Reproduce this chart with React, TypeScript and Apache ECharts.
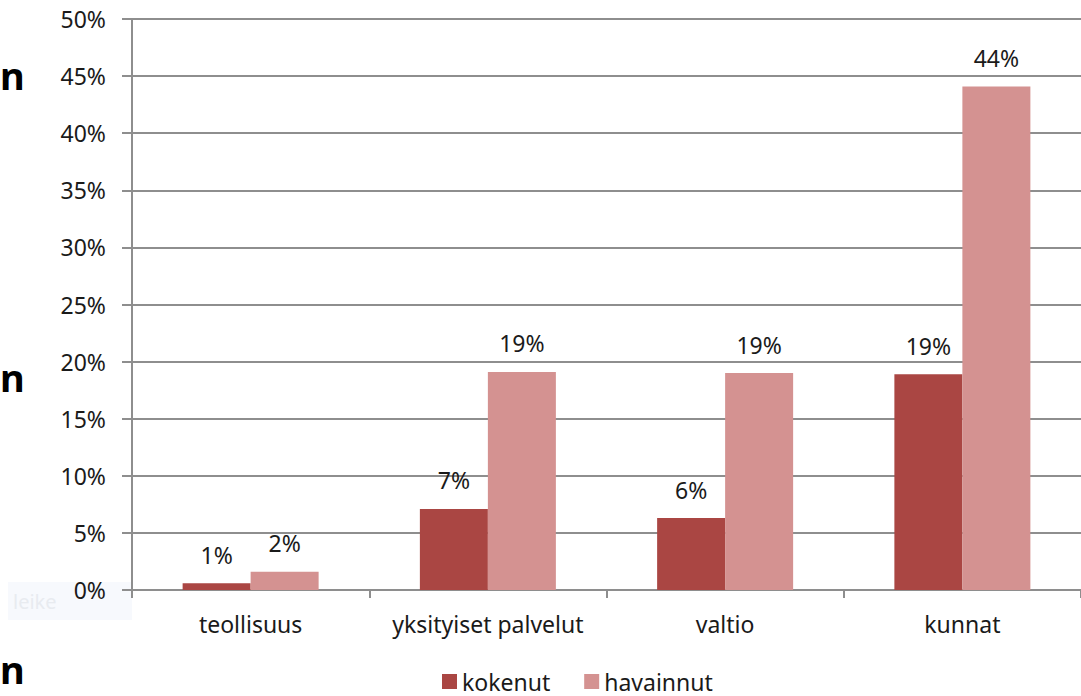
import React, { useEffect, useRef } from "react";
import * as echarts from "echarts";

const categories = ["teollisuus", "yksityiset palvelut", "valtio", "kunnat"];
const kokenut = [0.6, 7.1, 6.3, 18.9];
const havainnut = [1.6, 19.1, 19.0, 44.1];
const seriesNames = ["kokenut", "havainnut"];

const FONT = "Noto Sans";
const FS = 23;

export default function App() {
  const ref = useRef<HTMLDivElement>(null);
  useEffect(() => {
    if (!ref.current) return;
    const chart = echarts.init(ref.current, undefined, { renderer: "svg" });
    const labelStyle = {
      show: true,
      position: "top" as const,
      distance: 17,
      fontSize: FS,
      fontFamily: FONT,
      color: "#1a1a1a",
      formatter: (p: any) => Math.round(p.value) + "%",
    };
    chart.setOption({
      animation: false,
      backgroundColor: "#ffffff",
      grid: { left: 132, right: -1, top: 19, bottom: 106, containLabel: false },
      legend: {
        data: seriesNames,
        left: 437,
        top: 665,
        itemWidth: 15,
        itemHeight: 15,
        itemGap: 34,
        icon: "rect",
        textStyle: { fontSize: FS, fontFamily: FONT, color: "#1a1a1a" },
      },
      xAxis: {
        type: "category",
        data: categories,
        axisLine: { show: true, lineStyle: { color: "#8e8e8e", width: 2 } },
        axisTick: { show: true, interval: 0, length: 8, lineStyle: { color: "#8e8e8e", width: 2 } },
        axisLabel: { interval: 0, fontSize: FS, fontFamily: FONT, color: "#1a1a1a", margin: 22 },
      },
      yAxis: {
        type: "value",
        min: 0,
        max: 50,
        interval: 5,
        axisLine: { show: true, lineStyle: { color: "#8e8e8e", width: 2 } },
        axisTick: { show: true, length: 10, lineStyle: { color: "#8e8e8e", width: 2 } },
        splitLine: { show: true, lineStyle: { color: "#8e8e8e", width: 2 } },
        axisLabel: { fontSize: FS, fontFamily: FONT, color: "#1a1a1a", margin: 26, formatter: "{value}%" },
      },
      series: [
        {
          name: seriesNames[0],
          type: "bar",
          data: kokenut,
          barWidth: 68,
          barGap: "0%",
          itemStyle: { color: "#aa4643" },
          label: labelStyle,
        },
        {
          name: seriesNames[1],
          type: "bar",
          data: havainnut,
          barWidth: 68,
          barGap: "0%",
          itemStyle: { color: "#d49291" },
          label: labelStyle,
        },
      ],
      graphic: [
        { type: "rect", left: 8, top: 582, z: -1, shape: { width: 124, height: 38 }, style: { fill: "#f7f9fd" } },
        { type: "text", left: 13, top: 591, style: { text: "leike", fontSize: 20, fontFamily: FONT, fill: "#e8ebf0" } },
        { type: "text", left: 0, top: 56, style: { text: "n", fontSize: 38, fontWeight: "bold", fontFamily: FONT, fill: "#000" } },
        { type: "text", left: 0, top: 358, style: { text: "n", fontSize: 38, fontWeight: "bold", fontFamily: FONT, fill: "#000" } },
        { type: "text", left: 0, top: 650, style: { text: "n", fontSize: 38, fontWeight: "bold", fontFamily: FONT, fill: "#000" } },
      ],
    });
    return () => chart.dispose();
  }, []);
  return (
    <div
      ref={ref}
      style={{ position: "fixed", left: 0, top: 0, width: 1081, height: 696 }}
    />
  );
}
